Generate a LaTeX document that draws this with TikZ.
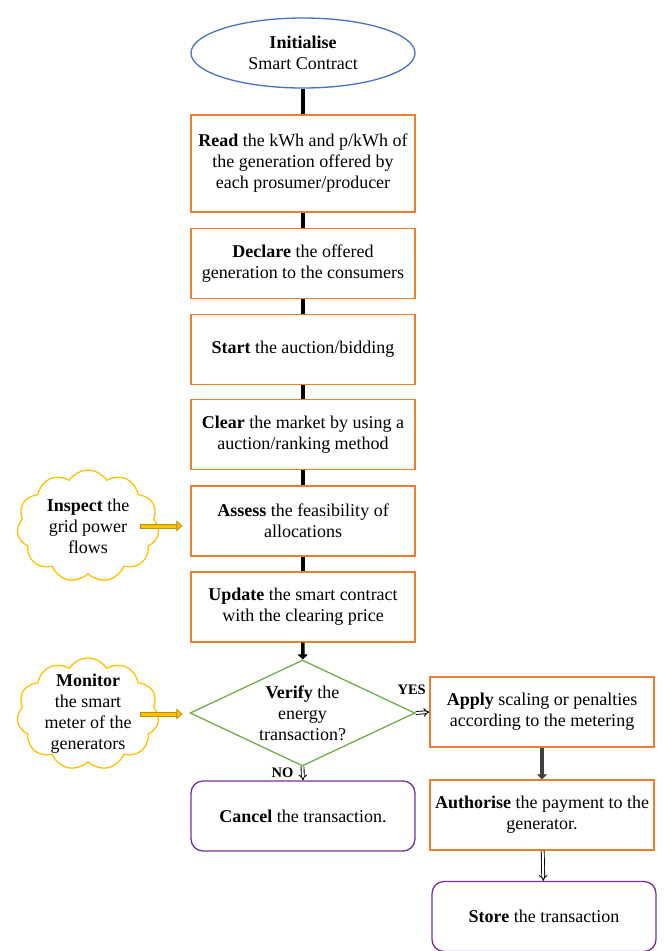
\documentclass[tikz,border=0pt]{standalone}
\usepackage{fontspec}
\setmainfont{Liberation Serif}
\usetikzlibrary{arrows.meta,shapes.geometric,shapes.symbols,positioning}

\definecolor{boxorange}{HTML}{ED7D31}
\definecolor{startblue}{HTML}{4472C4}
\definecolor{checkgreen}{HTML}{70AD47}
\definecolor{endpurple}{HTML}{7030A0}
\definecolor{cloudgold}{HTML}{FFC000}
\definecolor{golddark}{HTML}{BF9000}
\definecolor{linkgrey}{HTML}{404040}

\begin{document}
\begin{tikzpicture}[x=1pt,y=-1pt,
  every node/.style={font=\fontsize{18}{21}\selectfont, align=center, inner sep=0pt},
  stepbox/.style={draw=boxorange, line width=1.3pt, minimum width=224pt, minimum height=70pt},
  endbox/.style={draw=endpurple, line width=1.3pt, rounded corners=12pt, minimum width=224pt, minimum height=70pt},
  startnode/.style={ellipse, draw=startblue, line width=1.3pt, minimum width=224pt, minimum height=70pt},
  check/.style={diamond, draw=checkgreen, line width=1.3pt, minimum width=225pt, minimum height=106pt},
  cloudnote/.style={cloud, draw=cloudgold, line width=1.3pt, cloud puffs=11, cloud puff arc=115,
    cloud ignores aspect, minimum width=142pt, minimum height=112pt},
  link/.style={line width=3.5pt},
  linkarrow/.style={line width=3.5pt, -{Triangle[length=5pt,width=10pt]}},
  dblarrow/.style={double, double distance=2pt, line width=0.9pt, -{Implies}},
  feed/.style n args={3}{draw=golddark, line width=5pt, shorten <=#1, shorten >=#2,
    -{Triangle[length=6pt,width=11pt,line width=0.8pt,fill=cloudgold]},
    postaction={draw=cloudgold, line width=3pt, -, shorten <=#1+0.9pt, shorten >=#3}},
  answer/.style={font=\fontsize{14.5}{17}\selectfont\bfseries}
]
\useasboundingbox (0,0) rectangle (664,951);

% main column
\node[startnode] (init) at (303,53) {\textbf{Initialise}\\Smart Contract};
\node[stepbox, minimum height=97pt] (read) at (303,163.5)
  {\textbf{Read} the kWh and p/kWh of\\the generation offered by\\each prosumer/producer};
\node[stepbox] (declare) at (303,263.5) {\textbf{Declare} the offered\\generation to the consumers};
\node[stepbox] (start) at (303,349.5) {\textbf{Start} the auction/bidding};
\node[stepbox] (clear) at (303,434.5) {\textbf{Clear} the market by using a\\auction/ranking method};
\node[stepbox] (assess) at (303,521) {\textbf{Assess} the feasibility of\\allocations};
\node[stepbox] (update) at (303,607) {\textbf{Update} the smart contract\\with the clearing price};
\node[check, label={center:{\textbf{Verify} the\\energy\\transaction?}}] (verify) at (302.5,713) {};
\node[endbox] (cancel) at (303,816) {\textbf{Cancel} the transaction.};

% right column
\node[stepbox] (apply) at (542,712) {\textbf{Apply} scaling or penalties\\according to the metering};
\node[stepbox] (authorise) at (542,815) {\textbf{Authorise} the payment to the\\generator.};
\node[endbox] (store) at (544,916.5) {\textbf{Store} the transaction};

% side notes
\node[cloudnote, label={center:{\textbf{Inspect} the\\grid power\\flows}}] (inspect) at (88,526) {};
\node[cloudnote, label={center:{\textbf{Monitor}\\the smart\\meter of the\\generators}}] (monitor) at (88,714) {};

\draw[link] (init) -- (read);
\draw[link] (read) -- (declare);
\draw[link] (declare) -- (start);
\draw[link] (start) -- (clear);
\draw[link] (clear) -- (assess);
\draw[link] (assess) -- (update);
\draw[linkarrow] (update) -- (verify);
\draw[dblarrow] (verify.east) -- (apply.west)
  node[answer, pos=0, anchor=base, xshift=-4pt, yshift=19pt] {YES};
\draw[dblarrow] (verify.south) -- (cancel.north)
  node[answer, pos=0, anchor=base, xshift=-20pt, yshift=-11pt] {NO};
\draw[linkarrow, linkgrey] (apply) -- (authorise);
\draw[dblarrow] (authorise) -- (store);
\draw[feed={52pt}{8pt}{14pt}] (inspect.center) -- (inspect.center -| assess.west);
\draw[feed={52pt}{7pt}{13pt}] (monitor.center) -- (monitor.center -| verify.west);
\end{tikzpicture}
\end{document}
